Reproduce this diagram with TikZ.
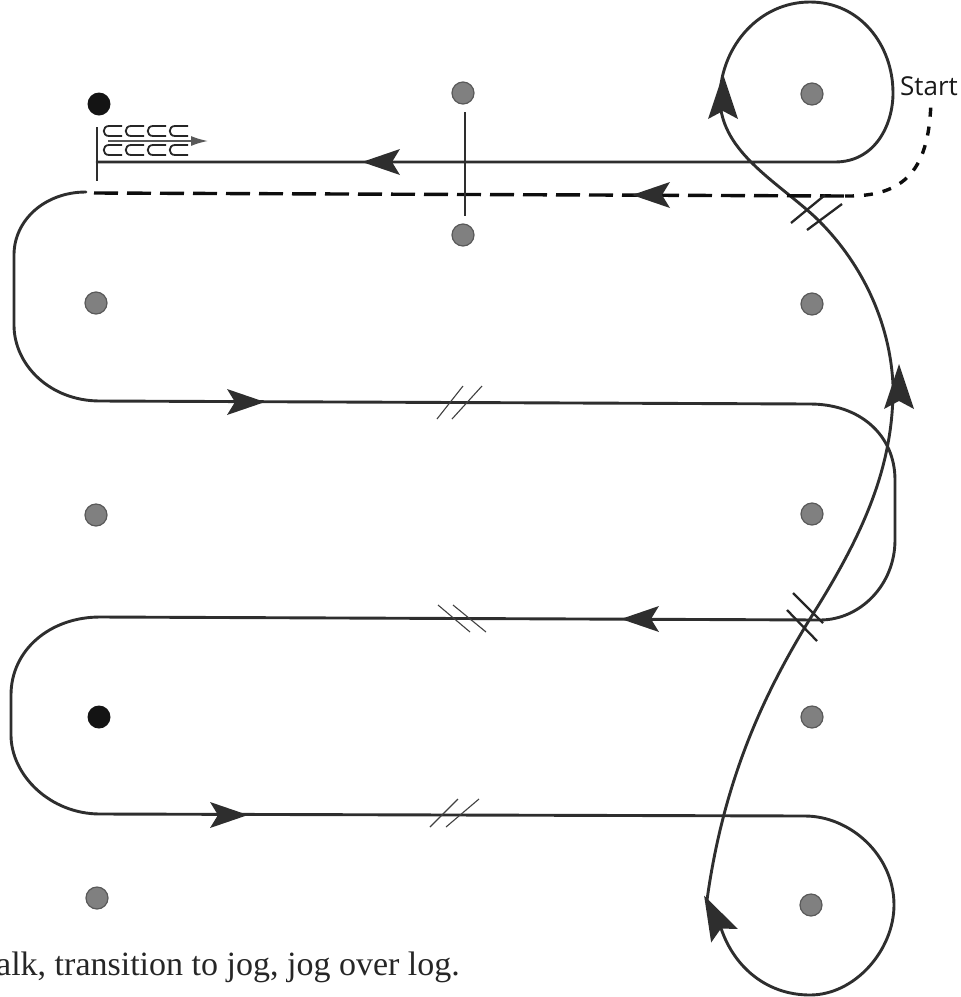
\documentclass[tikz,border=0pt]{standalone}
\usepackage{fontspec}
\usetikzlibrary{arrows.meta}
\setmainfont{Liberation Serif}
\newfontfamily\labelfont{Open Sans}
\tikzset{
 x=1pt,y=-1pt,
 pathline/.style={draw=black!82,line width=2.9pt,line cap=round},
 thinpath/.style={draw=black!82,line width=2.2pt},
 dashline/.style={draw=black!95,line width=3.4pt,dash pattern=on 24pt off 9pt},
 dotline/.style={draw=black!95,line width=3.4pt,dash pattern=on 9pt off 10pt},
 tick/.style={draw=black!75,line width=1.1pt},
 heavytick/.style={draw=black!85,line width=2.3pt},
 cone/.style={circle,draw=black!65,line width=1.2pt,fill=black!50,minimum size=22pt,inner sep=0pt},
 blackcone/.style={circle,fill=black!92,minimum size=23pt,inner sep=0pt},
 tipmark/.style={fill=black!82,draw=none},
 gait/.style={draw=black!85,line width=1.8pt},
}
\newcommand{\headtip}[3]{\fill[tipmark,shift={(#1,#2)},rotate=#3] (19,0) -- (-19,-13) -- (-11,0) -- (-19,13) -- cycle;}
\newcommand{\bigtip}[3]{\fill[tipmark,shift={(#1,#2)},rotate=#3] (24,0) -- (-21,-15) -- (-13,0) -- (-21,15) -- cycle;}
\newcommand{\gaitmark}[2]{\draw[gait,shift={(#1,#2)}] (18,0) -- (5,0) .. controls (-2,0) and (-2,10) .. (5,10) -- (18,10);}
\begin{document}
\begin{tikzpicture}
\useasboundingbox (0,0) rectangle (961,997);
% cones
\node[blackcone] (c1) at (99,104) {};
\node[cone] (c2) at (463,93) {};
\node[cone] (c3) at (812,94) {};
\node[cone] (c4) at (463,235) {};
\node[cone] (c5) at (96,303) {};
\node[cone] (c6) at (812,304) {};
\node[cone] (c7) at (96,515) {};
\node[cone] (c8) at (812,514) {};
\node[blackcone] (c9) at (99,717) {};
\node[cone] (c10) at (812,717) {};
\node[cone] (c11) at (97,898) {};
\node[cone] (c12) at (811,905) {};
% main route
\draw[pathline] (97,162) -- (835,162)
  .. controls (875,162) and (893,125) .. (893,93)
  .. controls (893,45) and (860,2) .. (810,2)
  .. controls (760,2) and (722,45) .. (720,95)
  .. controls (718,150) and (775,180) .. (815,217)
  .. controls (860,260) and (890,320) .. (893,385)
  .. controls (894,470) and (860,540) .. (808,622)
  .. controls (770,685) and (725,770) .. (707,900);
\draw[pathline] (720,925) .. controls (732,965) and (765,995) .. (810,995)
  .. controls (855,995) and (894,950) .. (894,905)
  .. controls (894,855) and (850,816) .. (805,816)
  -- (100,814)
  .. controls (50,814) and (11,775) .. (11,735)
  -- (11,695)
  .. controls (11,650) and (50,617) .. (100,617)
  -- (820,620)
  .. controls (860,620) and (895,585) .. (895,540)
  -- (895,480)
  .. controls (895,435) and (860,404) .. (810,404)
  -- (100,401)
  .. controls (50,401) and (14,365) .. (14,325)
  -- (14,255)
  .. controls (14,220) and (45,192) .. (86,192);
% dashed start
\draw[dashline] (94,193) -- (845,196);
\draw[dotline] (845,196) .. controls (905,197) and (930,170) .. (931,98);
% tips
\headtip{381}{162}{180}
\headtip{651}{195}{180}
\headtip{246}{402}{0}
\headtip{640}{619}{180}
\headtip{229}{815}{0}
\bigtip{899}{388}{90}
\bigtip{723}{98}{90}
\bigtip{715}{917}{117}
% log
\draw[thinpath] (465,112) -- (465,216);
% halt line
\draw[thinpath] (97,127) -- (97,181);
% gait marks
\foreach \gx in {104,126,148,170}{\gaitmark{\gx}{126}\gaitmark{\gx}{145}}
\draw[draw=black!65,line width=1.6pt,-{Latex[length=17pt,width=10pt]}] (108,141) -- (208,141);
% ticks
\draw[tick] (437,419) -- (463,386);
\draw[tick] (452,419) -- (482,386);
\draw[tick] (438,605) -- (470,632);
\draw[tick] (453,605) -- (486,632);
\draw[tick] (430,827) -- (458,799);
\draw[tick] (446,827) -- (479,799);
\draw[heavytick] (791,223) -- (825,195);
\draw[heavytick] (807,230) -- (842,204);
\draw[heavytick] (787,610) -- (817,641);
\draw[heavytick] (793,593) -- (823,623);
% text
\node[font=\labelfont\fontsize{26}{30}\selectfont,text=black!90,inner sep=0pt,anchor=base] (st) at (929,95) {Start};
\node[font=\fontsize{34}{40}\selectfont,text=black!85,inner sep=0pt,anchor=base west] (tx) at (-4,975) {alk, transition to jog, jog over log.};
\end{tikzpicture}
\end{document}
